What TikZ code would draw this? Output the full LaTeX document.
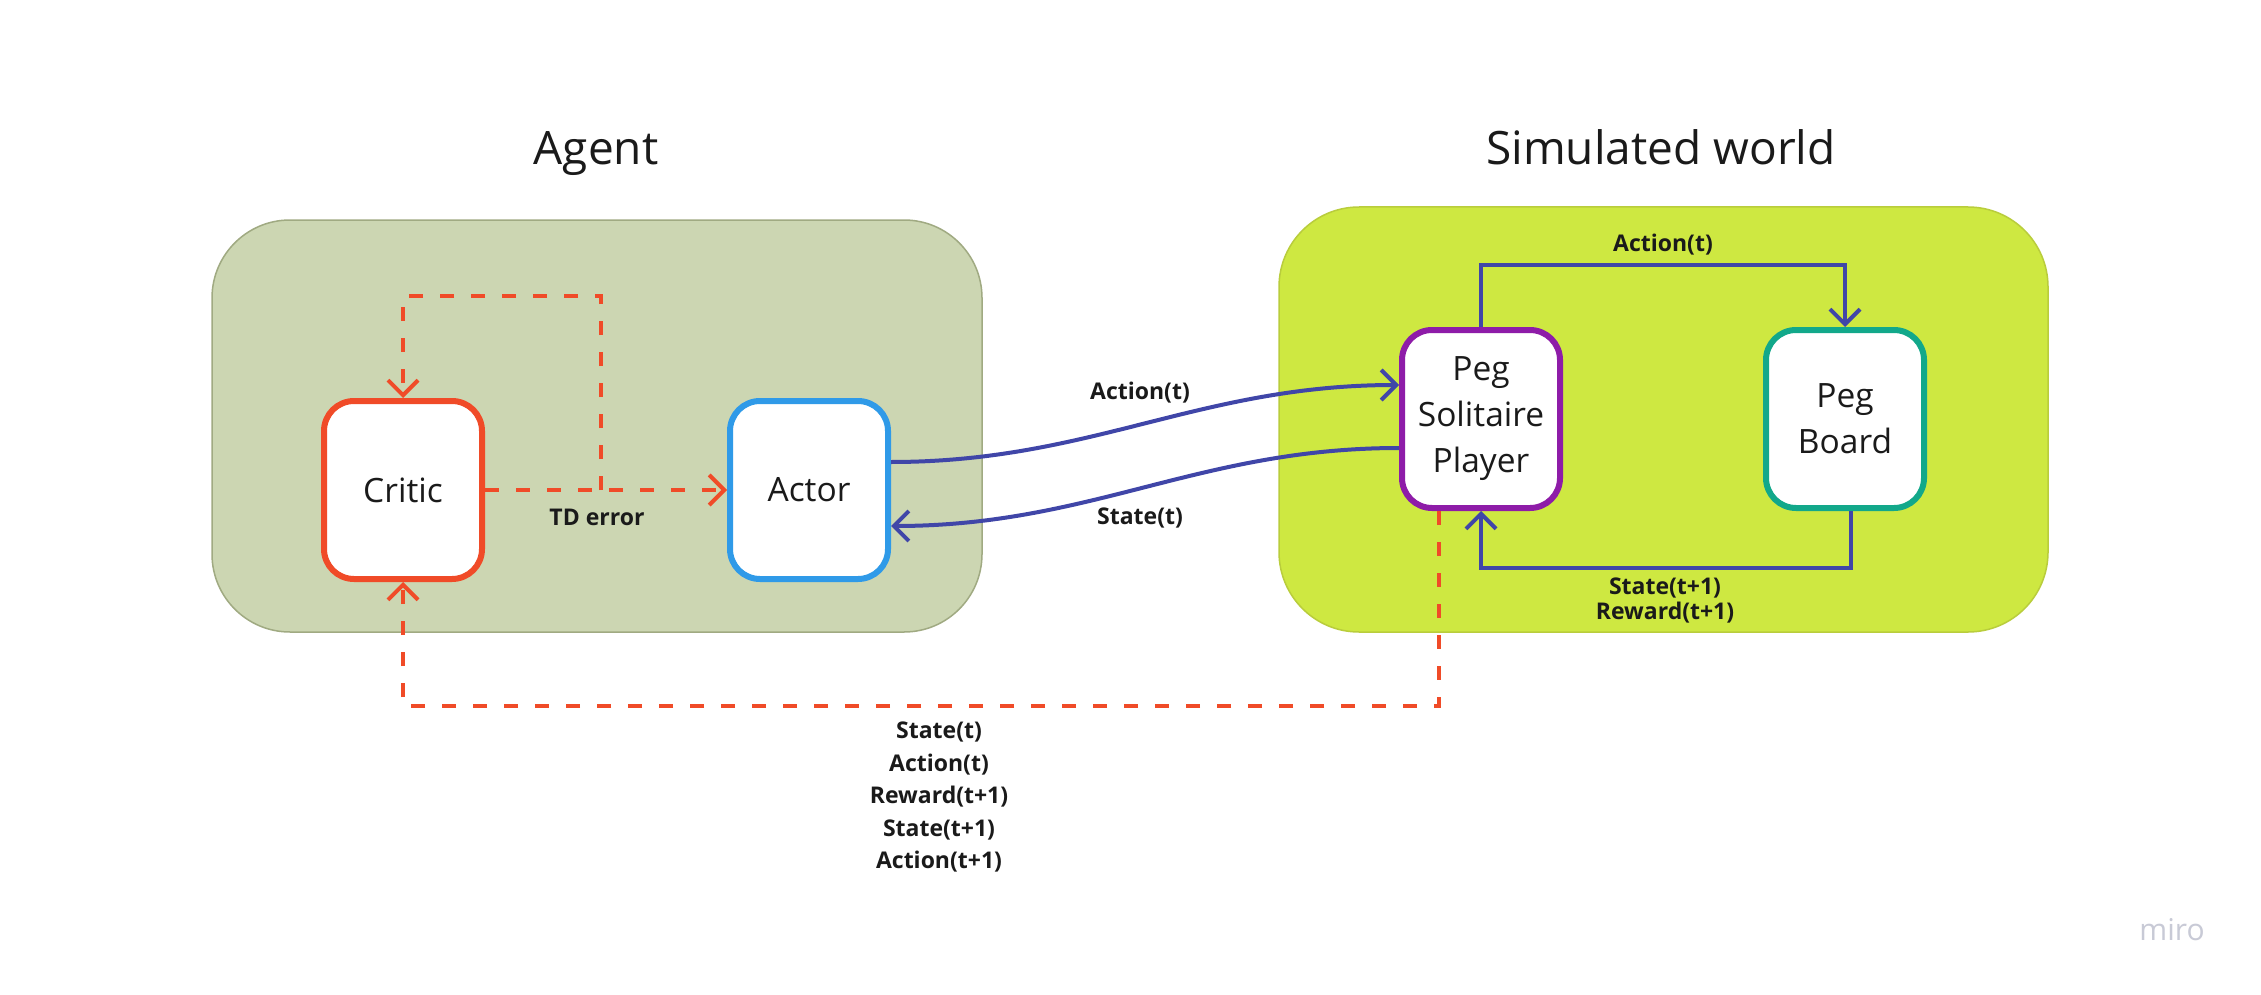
\documentclass[tikz,border=0pt]{standalone}
\usepackage{fontspec}
\setmainfont{Open Sans}
\usepackage{tikz}
\usetikzlibrary{arrows.meta}

\definecolor{agentfill}{RGB}{204,214,178}
\definecolor{agentline}{RGB}{160,170,130}
\definecolor{simfill}{RGB}{206,232,65}
\definecolor{simline}{RGB}{185,205,60}
\definecolor{critred}{RGB}{240,75,40}
\definecolor{actblue}{RGB}{47,154,232}
\definecolor{plyviolet}{RGB}{142,28,168}
\definecolor{brdteal}{RGB}{18,168,138}
\definecolor{flowblue}{RGB}{64,70,168}
\definecolor{inkgray}{RGB}{26,26,26}
\definecolor{mirogray}{RGB}{200,202,214}

\begin{document}
\begin{tikzpicture}[x=1pt, y=-1pt, text=inkgray,
    block/.style={draw, line width=6pt, rounded corners=30pt, fill=white, inner sep=0, minimum width=158pt, minimum height=178pt, align=center, font=\fontsize{33.5}{46}\selectfont},
    grouptitle/.style={anchor=base, font=\fontsize{46}{50}\selectfont},
    lbl/.style={align=center, font=\bfseries\fontsize{23}{32.5}\selectfont},
    dashlink/.style={draw=critred, line width=4pt, dash pattern=on 14pt off 17pt, -{Straight Barb[length=15pt, width=30pt]}},
    flow/.style={draw=flowblue, line width=4pt, -{Straight Barb[length=15pt, width=30pt]}}]
  \useasboundingbox [fill=white] (0,0) rectangle (2261,995);
  % group panels
  \draw [fill=agentfill, draw=agentline, line width=1.5pt, rounded corners=78pt] (212,220) rectangle (982,632);
  \draw [fill=simfill, draw=simline, line width=1.5pt, rounded corners=80pt] (1279,207) rectangle (2048,632);
  \node [grouptitle] (agenttitle) at (596,165) {Agent};
  \node [grouptitle] (simtitle) at (1661,165) {Simulated world};
  % blocks
  \node [block, draw=critred] (Critic) at (403,490) {Critic};
  \node [block, draw=actblue] (Actor) at (809,490) {Actor};
  \node [block, draw=plyviolet] (Player) at (1481,419) {Peg\\Solitaire\\Player};
  \node [block, draw=brdteal] (Board) at (1845,419) {Peg\\Board};
  % td error
  \coordinate (tdsplit) at (601,490);
  \draw [dashlink] (Critic.east) -- (Actor.west);
  \draw [dashlink] (tdsplit) -- (601,296) -| (Critic.north);
  \node [lbl] (tdlbl) at (597,517) {TD error};
  % agent <-> world
  \draw [flow] ([yshift=28pt]Actor.east) to [out=0, in=180] ([yshift=34pt]Player.west);
  \draw [flow] ([yshift=-29pt]Player.west) to [out=180, in=0] ([yshift=-36pt]Actor.east);
  \node [lbl] (actlbl) at (1140,393) {Action(t)};
  \node [lbl] (statelbl) at (1140,518) {State(t)};
  % inside the world
  \draw [flow] (Player.north) -- ++(0,-62) -| (Board.north);
  \draw [flow] ([xshift=6pt]Board.south) -- ++(0,57) -| (Player.south);
  \node [lbl] (wactlbl) at (1663,245) {Action(t)};
  \node [lbl, font=\bfseries\fontsize{23}{25}\selectfont] (wstatelbl) at (1665,600) {State(t+1)\\Reward(t+1)};
  % transition to critic
  \coordinate (lowturn) at (403,706);
  \draw [dashlink] ([xshift=-42pt]Player.south) |- (lowturn) -- (Critic.south);
  \node [lbl] (translbl) at (939,797) {State(t)\\Action(t)\\Reward(t+1)\\State(t+1)\\Action(t+1)};
  \node [text=mirogray, font=\fontsize{30}{32}\selectfont] (miro) at (2172,930) {miro};
\end{tikzpicture}
\end{document}
